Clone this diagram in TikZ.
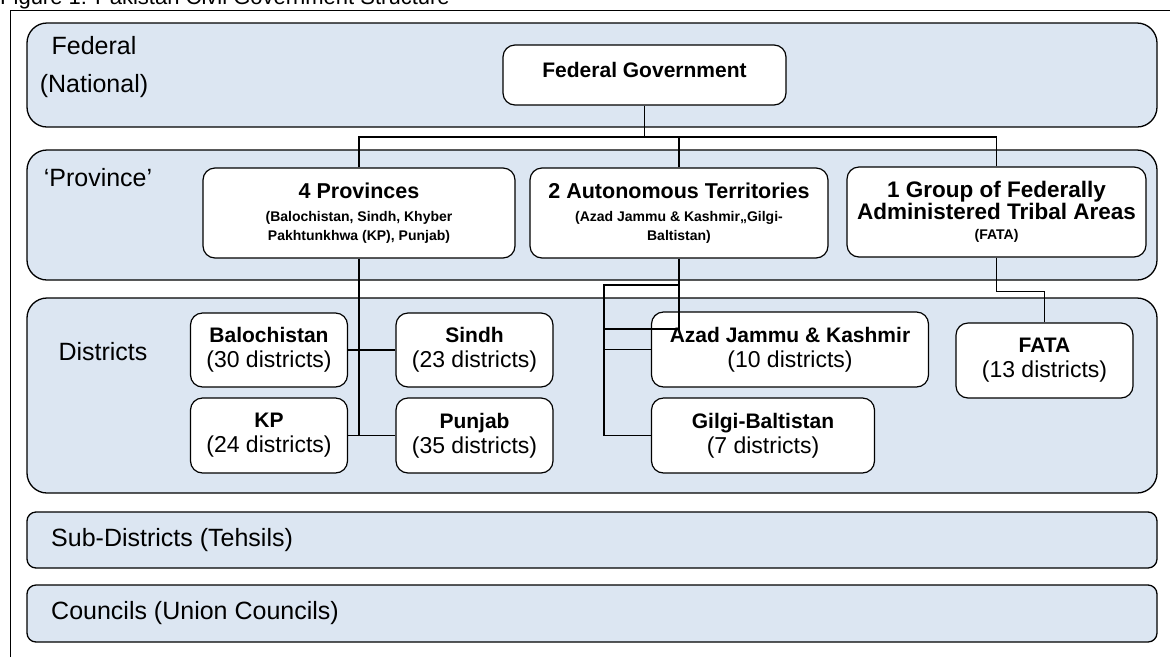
\documentclass[tikz,border=0pt]{standalone}
\usepackage{fontspec}
\setmainfont{Liberation Sans}
\usetikzlibrary{positioning}
\definecolor{bandblue}{RGB}{220,230,242}
\newcommand{\hdfont}{\bfseries\fontsize{21.5}{25}\selectfont}
\newcommand{\smfont}{\bfseries\fontsize{14}{19}\selectfont}
\newcommand{\nmfont}{\bfseries\fontsize{21}{25}\selectfont}
\newcommand{\ctfont}{\mdseries\fontsize{23}{25}\selectfont}

\begin{document}
\begin{tikzpicture}[x=1pt,y=-1pt,
  band/.style={draw,line width=1.3pt,fill=bandblue,rounded corners=20pt,minimum width=1130pt,inner sep=0pt},
  flat band/.style={band,rounded corners=9pt},
  unit/.style={draw,line width=1.2pt,fill=white,rounded corners=12pt,align=center,inner sep=0pt,
    font=\fontsize{21}{25}\selectfont},
  tier/.style={unit,minimum height=90pt,font=\fontsize{14}{19}\selectfont},
  level/.style={font=\fontsize{25}{38}\selectfont,align=center,inner sep=0pt},
  link/.style={line width=1.4pt}]
  \useasboundingbox (0,0) rectangle (1170,657);
  \clip (0,0) rectangle (1170,657);
  \node[anchor=base west,font=\fontsize{22}{25}\selectfont,inner sep=0pt] (title) at (0,4) {Figure 1: Pakistan Civil Government Structure};
  \draw[line width=0.9pt] (10,657) -- (10,10) -- (1170,10);

  \node[band,minimum height=104pt] (fed) at (592,75) {};
  \node[band,minimum height=130pt] (prov) at (592,215) {};
  \node[band,minimum height=195pt] (dist) at (592,395.5) {};
  \node[flat band,minimum height=56pt] (sub) at (592,540) {};
  \node[flat band,minimum height=57pt] (coun) at (592,613.5) {};

  \node[level] (fedlbl) at (94,67) {Federal\\(National)};
  \node[level] (provlbl) at (98,178) {‘Province’};
  \node[level] (distlbl) at (103,352) {Districts};
  \node[level,anchor=west] (sublbl) at (51,540) {Sub-Districts (Tehsils)};
  \node[level,anchor=west] (counlbl) at (51,613.5) {Councils (Union Councils)};

  \node[unit,minimum width=283pt,minimum height=60pt,font=\nmfont] (fedgov) at (644.5,75) {Federal Government\\[-15pt]};

  \node[tier,minimum width=312pt] (prov4) at (359,213)
    {\hdfont 4 Provinces\\[4pt]\smfont (Balochistan, Sindh, Khyber\\\smfont Pakhtunkhwa (KP), Punjab)};
  \node[tier,minimum width=298pt] (auto2) at (679,213)
    {\hdfont 2 Autonomous Territories\\[4pt]\smfont (Azad Jammu \& Kashmir,,Gilgi-\\\smfont Baltistan)};
  \node[tier,minimum width=299pt,font=\fontsize{14}{22}\selectfont] (fata1) at (996.5,212)
    {\bfseries\fontsize{22.5}{25}\selectfont 1 Group of Federally\\\bfseries\fontsize{22.5}{25}\selectfont Administered Tribal Areas\\[-2pt]\smfont (FATA)};

  \node[unit,minimum width=157pt,minimum height=74pt] (baloch) at (269,350) {\nmfont Balochistan\\\ctfont (30 districts)};
  \node[unit,minimum width=157pt,minimum height=74pt] (sindh) at (474.5,350) {\nmfont Sindh\\\ctfont (23 districts)};
  \node[unit,minimum width=157pt,minimum height=75pt] (kp) at (269,435.5) {\nmfont KP\\\ctfont (24 districts)};
  \node[unit,minimum width=157pt,minimum height=75pt] (punjab) at (474.5,435.5) {\nmfont Punjab\\\ctfont (35 districts)};
  \node[unit,minimum width=277pt,minimum height=75pt] (azad) at (790,349.5) {\nmfont Azad Jammu \& Kashmir\\\ctfont (10 districts)};
  \node[unit,minimum width=223pt,minimum height=75pt] (gilgi) at (763,435.5) {\nmfont Gilgi-Baltistan\\\ctfont (7 districts)};
  \node[unit,minimum width=177pt,minimum height=75pt] (fatad) at (1044.5,360.5) {\nmfont FATA\\\ctfont (13 districts)};

  \coordinate (fbus) at (644.5,137);
  \draw[link] (fedgov.south) -- (fbus);
  \draw[link] (prov4.north) |- (fbus) -| (fata1.north);
  \draw[link] (auto2.north) -- (auto2.north |- fbus);
  \draw[link] (prov4.south) -- (prov4.south |- kp.east);
  \draw[link] (baloch.east) -- (sindh.west);
  \draw[link] (kp.east) -- (punjab.west);
  \coordinate (abus) at (604,285);
  \coordinate (ajoin) at (604,329);
  \draw[link] (auto2.south) |- (ajoin);
  \draw[link] (auto2.south |- abus) -- (abus) |- (gilgi.west);
  \draw[link] (abus |- azad.west) -- (azad.west);
  \draw[link] (fata1.south) -- ++(0,34) -| (fatad.north);
\end{tikzpicture}
\end{document}
